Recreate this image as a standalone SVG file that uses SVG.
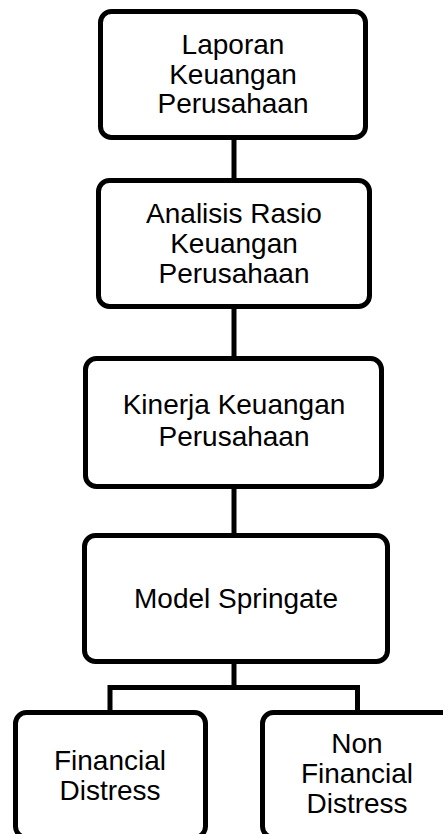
<svg xmlns="http://www.w3.org/2000/svg" width="443" height="834" viewBox="0 0 443 834">
<style>
.box{fill:#fff;stroke:#000;stroke-width:5}
.c{fill:none;stroke:#000;stroke-width:5}
text{font-family:"Liberation Sans",Arial,sans-serif;font-size:28px;fill:#000;text-anchor:middle}
</style>
<rect width="443" height="834" fill="#fff"/>
<g id="connectors">
<line class="c" x1="234" y1="138" x2="234" y2="181"/>
<line class="c" x1="234" y1="307" x2="234" y2="359"/>
<line class="c" x1="234" y1="487" x2="234" y2="535"/>
<line class="c" x1="234" y1="662" x2="234" y2="687.5"/>
<polyline class="c" points="110,712 110,687.5 357.5,687.5 357.5,712"/>
</g>
<g id="n1">
<rect class="box" x="100.5" y="11.5" width="265" height="126" rx="11"/>
<text x="233" y="54">Laporan</text>
<text x="233" y="84">Keuangan</text>
<text x="233" y="113">Perusahaan</text>
</g>
<g id="n2">
<rect class="box" x="98.5" y="180.5" width="271" height="126" rx="11"/>
<text x="234" y="223">Analisis Rasio</text>
<text x="234" y="253">Keuangan</text>
<text x="234" y="283">Perusahaan</text>
</g>
<g id="n3">
<rect class="box" x="85.5" y="358.5" width="296" height="128" rx="11"/>
<text x="234" y="414">Kinerja Keuangan</text>
<text x="234" y="446">Perusahaan</text>
</g>
<g id="n4">
<rect class="box" x="84.5" y="535.5" width="303" height="126" rx="11"/>
<text x="236" y="608">Model Springate</text>
</g>
<g id="n5">
<rect class="box" x="15.5" y="712.5" width="190" height="125" rx="11"/>
<text x="110" y="770">Financial</text>
<text x="110" y="800">Distress</text>
</g>
<g id="n6">
<rect class="box" x="262.5" y="712.5" width="190" height="125" rx="11"/>
<text x="357" y="753">Non</text>
<text x="357" y="783">Financial</text>
<text x="357" y="813">Distress</text>
</g>
</svg>
